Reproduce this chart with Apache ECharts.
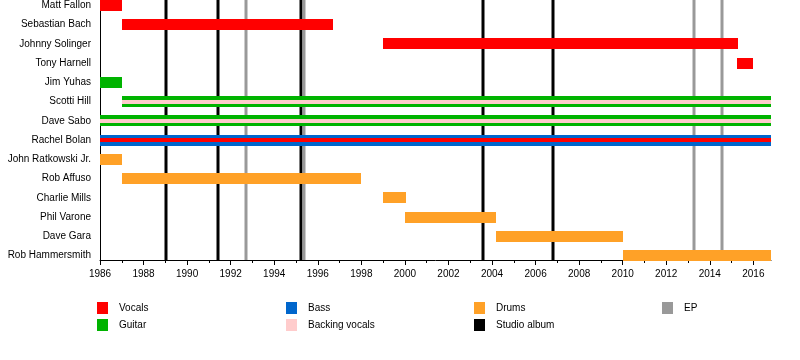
<!DOCTYPE html>
<html>
<head>
<meta charset="utf-8">
<script src="https://cdn.jsdelivr.net/npm/echarts@6/dist/echarts.min.js"></script>
<style>html,body{margin:0;padding:0;background:#fff}#c{width:800px;height:360px}</style>
</head>
<body>
<div id="c"></div>
<script>
// ---- data ----
const members = ['Matt Fallon','Sebastian Bach','Johnny Solinger','Tony Harnell','Jim Yuhas','Scotti Hill','Dave Sabo','Rachel Bolan','John Ratkowski Jr.','Rob Affuso','Charlie Mills','Phil Varone','Dave Gara','Rob Hammersmith'];
const timelineStart = 1986;
const timelineEnd = 2016.81;
const majorYears = [1986,1988,1990,1992,1994,1996,1998,2000,2002,2004,2006,2008,2010,2012,2014,2016];
const minorYears = [1987,1989,1991,1993,1995,1997,1999,2001,2003,2005,2007,2009,2011,2013,2015];

const vocals = [['Matt Fallon',1986,1987],['Sebastian Bach',1987,1996.7],['Johnny Solinger',1999,2015.29],['Tony Harnell',2015.25,2016.0]];
const guitar = [['Jim Yuhas',1986,1987],['Scotti Hill',1987,timelineEnd],['Dave Sabo',1986,timelineEnd]];
const bass = [['Rachel Bolan',1986,timelineEnd]];
const drums = [['John Ratkowski Jr.',1986,1987],['Rob Affuso',1987,1998],['Charlie Mills',1999,2000.03],['Phil Varone',2000,2004.18],['Dave Gara',2004.18,2010],['Rob Hammersmith',2010,timelineEnd]];
const backingVocals = [['Scotti Hill',1987,timelineEnd],['Dave Sabo',1986,timelineEnd]];
const secondaryVocals = [['Rachel Bolan',1986,timelineEnd]];
const studioAlbums = [1989.03,1991.42,1995.24,2003.6,2006.8];
const eps = [1992.69,1995.38,2013.29,2014.57];

// ---- chart ----
const FONT = "'Liberation Sans', Arial, sans-serif";
const toRows = arr => arr.map(d => [d[1], members.indexOf(d[0]), d[2]]);

function barRenderer(ratio){
  return function(params, api){
    const y = api.value(1);
    const p0 = api.coord([api.value(0), y]);
    const p1 = api.coord([api.value(2), y]);
    const band = Math.abs(api.coord([timelineStart, 1])[1] - api.coord([timelineStart, 0])[1]);
    const h = Math.round(band * ratio);
    const top = Math.round(p0[1] - h / 2);
    const x0 = Math.round(p0[0]), x1 = Math.round(p1[0]);
    return {type:'rect', shape:{x:x0, y:top, width:x1 - x0, height:h}, style:{fill: api.visual('color')}};
  };
}
function lineRenderer(params, api){
  const cs = params.coordSys;
  const x = Math.round(api.coord([api.value(0), 0])[0]);
  return {type:'line', shape:{x1:x, y1:cs.y, x2:x, y2:cs.y + cs.height}, style:{stroke: api.visual('color'), lineWidth:3}};
}
const FULL = 0.58, STRIPE = 0.22;
function barSeries(name, color, data, ratio, z){
  return {type:'custom', name, silent:true, z, itemStyle:{color}, renderItem: barRenderer(ratio),
    encode:{x:[0,2], y:1}, data: toRows(data)};
}
function lineSeries(name, color, data){
  return {type:'custom', name, silent:true, z:1, itemStyle:{color}, renderItem: lineRenderer,
    encode:{x:0, y:1}, data: data.map(v => [v, 0])};
}

const legendBase = {orient:'vertical', top:302, padding:0, itemWidth:11, itemHeight:12, itemGap:5, icon:'rect',
  selectedMode:false, textStyle:{fontSize:10, color:'#000', fontFamily:FONT, padding:[0,0,0,6]}};

const option = {
  animation:false,
  textStyle:{fontFamily:FONT},
  grid:{left:100, top:0, width:671, height:260, outerBoundsMode:'none', containLabel:false},
  xAxis:[{
    type:'value', min:timelineStart, max:timelineEnd, position:'bottom',
    axisLine:{show:true, onZero:false, lineStyle:{color:'#000', width:1}},
    axisTick:{show:true, length:5, customValues: majorYears, lineStyle:{color:'#000'}},
    axisLabel:{customValues: majorYears, formatter: v => String(Math.round(v)), fontSize:10, color:'#000', margin:9, fontFamily:FONT},
    splitLine:{show:false}
  },{
    type:'value', min:timelineStart, max:timelineEnd, position:'bottom',
    axisLine:{show:false, onZero:false},
    axisTick:{show:true, length:3, customValues: minorYears, lineStyle:{color:'#000'}},
    axisLabel:{show:false},
    splitLine:{show:false}
  }],
  yAxis:{
    type:'value', inverse:true, min:-0.286, max:13.234,
    axisLine:{show:true, onZero:false, lineStyle:{color:'#000', width:1}},
    axisTick:{show:false},
    axisLabel:{customValues: members.map((m,i)=>i), formatter: v => members[Math.round(v)] || '', fontSize:10, color:'#000', margin:9, fontFamily:FONT},
    splitLine:{show:false}
  },
  legend:[
    Object.assign({}, legendBase, {left:97, data:['Vocals','Guitar']}),
    Object.assign({}, legendBase, {left:286, data:['Bass','Backing vocals']}),
    Object.assign({}, legendBase, {left:474, data:['Drums','Studio album']}),
    Object.assign({}, legendBase, {left:662, data:['EP']})
  ],
  series:[
    lineSeries('Studio album', '#000000', studioAlbums),
    lineSeries('EP', '#999999', eps),
    barSeries('Vocals', '#ff0000', vocals, FULL, 2),
    barSeries('Guitar', '#00b300', guitar, FULL, 2),
    barSeries('Bass', '#0066cc', bass, FULL, 2),
    barSeries('Drums', '#ffa127', drums, FULL, 2),
    barSeries('Backing vocals', '#ffcccc', backingVocals, STRIPE, 3),
    barSeries('Vocals', '#ff0000', secondaryVocals, STRIPE, 3)
  ]
};
const chart = echarts.init(document.getElementById('c'), null, {renderer:'canvas'});
chart.setOption(option);
</script>
</body>
</html>
